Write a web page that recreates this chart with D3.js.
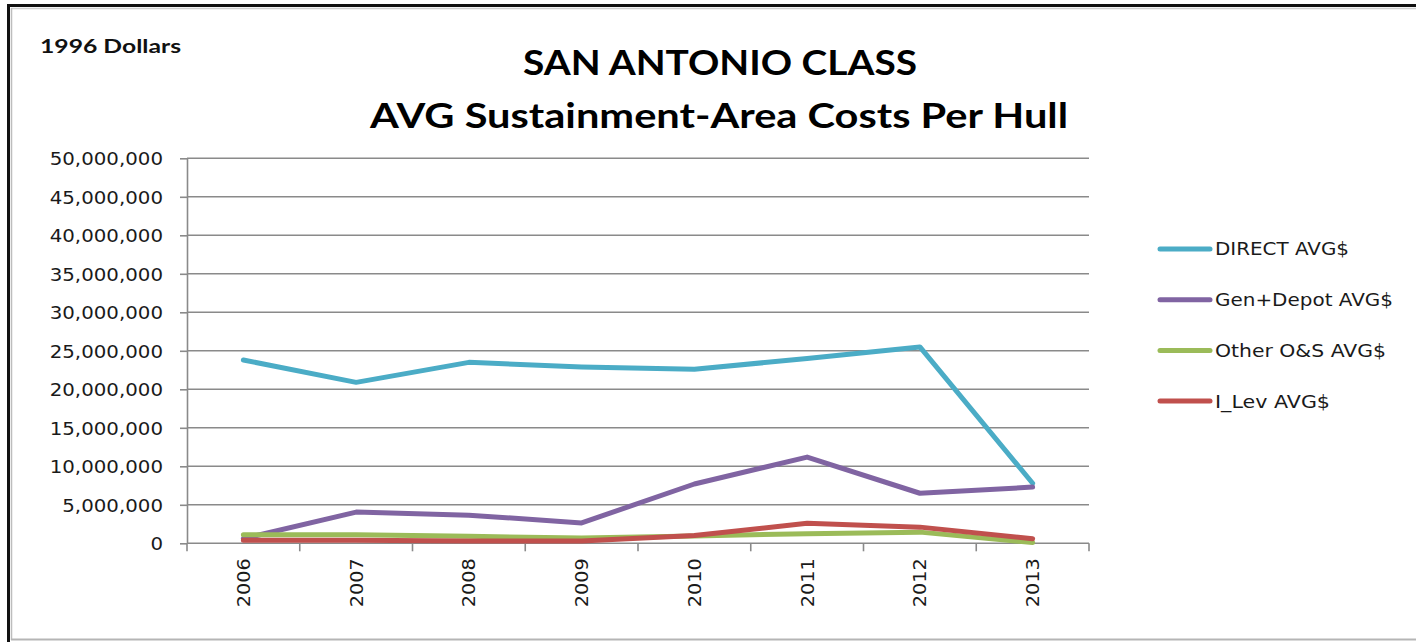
<!DOCTYPE html>
<html>
<head>
<meta charset="utf-8">
<script src="https://cdn.jsdelivr.net/npm/d3@7"></script>
<style>
  html, body { margin: 0; padding: 0; background: #fff; }
  svg { display: block; }
</style>
</head>
<body>
<svg id="chart" width="1416" height="642"></svg>
<script>
// ---- data ----
const years = ["2006", "2007", "2008", "2009", "2010", "2011", "2012", "2013"];
const directAvg   = [23800000, 20900000, 23500000, 22900000, 22600000, 24000000, 25500000, 7800000];
const genDepotAvg = [600000, 4050000, 3650000, 2650000, 7700000, 11200000, 6500000, 7300000];
const otherOSAvg  = [1100000, 1100000, 900000, 700000, 950000, 1250000, 1450000, 100000];
const iLevAvg     = [400000, 400000, 300000, 300000, 1000000, 2600000, 2100000, 600000];
const seriesNames = ["DIRECT AVG$", "Gen+Depot AVG$", "Other O&S AVG$", "I_Lev AVG$"];
const seriesColors = ["#4BACC6", "#8064A2", "#9BBB59", "#C0504D"];
const yTicks = [0, 5000000, 10000000, 15000000, 20000000, 25000000, 30000000, 35000000, 40000000, 45000000, 50000000];
const titleLines = ["SAN ANTONIO CLASS", "AVG Sustainment-Area Costs Per Hull"];
const unitLabel = "1996 Dollars";

const seriesData = [directAvg, genDepotAvg, otherOSAvg, iLevAvg];
const legendTextWidths = [134, 178, 171, 115];

const svg = d3.select("#chart");

// ---- frame ----
svg.append("line").attr("x1", 7).attr("x2", 1416).attr("y1", 5.5).attr("y2", 5.5)
  .attr("stroke", "#111").attr("stroke-width", 3);
svg.append("line").attr("x1", 8.5).attr("x2", 8.5).attr("y1", 4).attr("y2", 642)
  .attr("stroke", "#111").attr("stroke-width", 3);
svg.append("line").attr("x1", 11).attr("x2", 1416).attr("y1", 8.5).attr("y2", 8.5)
  .attr("stroke", "#cfcfcf").attr("stroke-width", 1.5);
svg.append("line").attr("x1", 11.5).attr("x2", 11.5).attr("y1", 8).attr("y2", 640)
  .attr("stroke", "#bdbdbd").attr("stroke-width", 1.5);
svg.append("line").attr("x1", 11).attr("x2", 1416).attr("y1", 639.5).attr("y2", 639.5)
  .attr("stroke", "#b5b5b5").attr("stroke-width", 2);

// ---- scales ----
const plotLeft = 187, plotRight = 1089, plotTop = 158.3, plotBottom = 543.3;
const x = d3.scaleBand().domain(years).range([plotLeft, plotRight]).padding(0);
const y = d3.scaleLinear().domain([0, 50000000]).range([plotBottom, plotTop]);
const fmt = d3.format(",");

// gridlines
svg.append("g").selectAll("line").data(yTicks.filter(d => d > 0)).join("line")
  .attr("x1", plotLeft).attr("x2", plotRight)
  .attr("y1", d => y(d)).attr("y2", d => y(d))
  .attr("stroke", "#8a8a8a").attr("stroke-width", 1.6);

// y axis
const yAxis = svg.append("g").attr("transform", `translate(${plotLeft},0)`)
  .call(d3.axisLeft(y).tickValues(yTicks).tickFormat(fmt).tickSize(7).tickSizeOuter(0).tickPadding(17));
yAxis.select(".domain").attr("stroke", "#8a8a8a").attr("stroke-width", 1.6);
yAxis.selectAll(".tick line").attr("stroke", "#8a8a8a").attr("stroke-width", 1.6);
yAxis.selectAll(".tick text").attr("font-family", "DejaVu Sans, Verdana, sans-serif")
  .attr("font-size", 18).attr("fill", "#1a1a1a").attr("dy", "0.36em")
  .attr("textLength", function () { return this.getComputedTextLength() * 1.1; })
  .attr("lengthAdjust", "spacingAndGlyphs");

// x axis (Excel style: ticks between categories)
const xg = svg.append("g");
xg.append("line").attr("x1", plotLeft).attr("x2", plotRight)
  .attr("y1", plotBottom).attr("y2", plotBottom)
  .attr("stroke", "#8a8a8a").attr("stroke-width", 1.6);
const boundaries = years.map(d => x(d)).concat([x(years[years.length - 1]) + x.bandwidth()]);
xg.selectAll("line.tk").data(boundaries).join("line").attr("class", "tk")
  .attr("x1", d => d).attr("x2", d => d)
  .attr("y1", plotBottom).attr("y2", plotBottom + 8)
  .attr("stroke", "#8a8a8a").attr("stroke-width", 1.6);
xg.selectAll("text").data(years).join("text")
  .attr("transform", d => `translate(${x(d) + x.bandwidth() / 2 + 6.5},${plotBottom + 15}) rotate(-90)`)
  .attr("text-anchor", "end")
  .attr("font-family", "DejaVu Sans, Verdana, sans-serif")
  .attr("font-size", 18).attr("fill", "#1a1a1a")
  .text(d => d)
  .attr("textLength", 49).attr("lengthAdjust", "spacingAndGlyphs");

// ---- lines ----
const lineGen = d3.line()
  .x((d, i) => x(years[i]) + x.bandwidth() / 2)
  .y(d => y(d));
seriesData.forEach((s, k) => {
  svg.append("path").datum(s)
    .attr("d", lineGen)
    .attr("fill", "none")
    .attr("stroke", seriesColors[k])
    .attr("stroke-width", 5)
    .attr("stroke-linejoin", "round")
    .attr("stroke-linecap", "round");
});

// ---- legend ----
const legend = svg.append("g");
seriesNames.forEach((name, k) => {
  const ly = 249 + k * 50.7;
  legend.append("line").attr("x1", 1160).attr("x2", 1210)
    .attr("y1", ly).attr("y2", ly)
    .attr("stroke", seriesColors[k]).attr("stroke-width", 5).attr("stroke-linecap", "round");
  legend.append("text").attr("x", 1215).attr("y", ly).attr("dy", "0.36em")
    .attr("font-family", "DejaVu Sans, Verdana, sans-serif")
    .attr("font-size", 18).attr("fill", "#1a1a1a")
    .text(name)
    .attr("textLength", legendTextWidths[k]).attr("lengthAdjust", "spacingAndGlyphs");
});

// ---- titles ----
svg.append("text").attr("x", 720).attr("y", 75).attr("text-anchor", "middle")
  .attr("font-family", "Lato, Open Sans, sans-serif").attr("font-weight", "bold")
  .attr("font-size", 35).attr("fill", "#000")
  .text(titleLines[0])
  .attr("textLength", 394).attr("lengthAdjust", "spacingAndGlyphs");
svg.append("text").attr("x", 719).attr("y", 128).attr("text-anchor", "middle")
  .attr("font-family", "Lato, Open Sans, sans-serif").attr("font-weight", "bold")
  .attr("font-size", 35).attr("fill", "#000")
  .text(titleLines[1])
  .attr("textLength", 698).attr("lengthAdjust", "spacingAndGlyphs");
svg.append("text").attr("x", 40).attr("y", 53)
  .attr("font-family", "Lato, Open Sans, sans-serif").attr("font-weight", "bold")
  .attr("font-size", 19).attr("fill", "#111")
  .text(unitLabel)
  .attr("textLength", 141).attr("lengthAdjust", "spacingAndGlyphs");
</script>
</body>
</html>
